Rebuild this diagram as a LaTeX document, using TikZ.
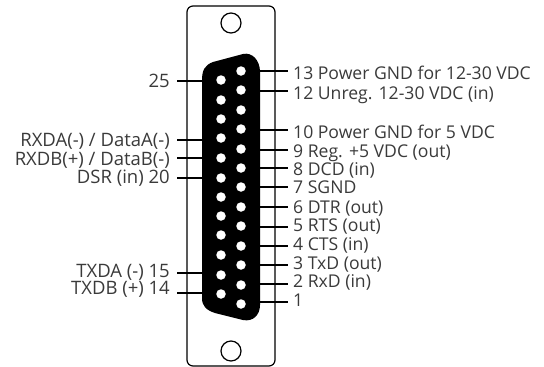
\documentclass[tikz,border=0pt]{standalone}
\usepackage{fontspec}
\setmainfont{Open Sans}
\definecolor{labelgray}{HTML}{3A3A3A}
\tikzset{
  wire/.style={line width=1.5pt,black},
  pin/.style={circle,fill=white,draw=none,minimum size=9.5pt,inner sep=0pt},
  hole/.style={circle,draw,line width=1.2pt,minimum size=20pt,inner sep=0pt},
  lbl/.style={text=labelgray,font=\fontsize{17.6}{19}\selectfont,inner sep=0pt},
  lblleft/.style={lbl,font=\fontsize{18.5}{19}\selectfont}
}
\begin{document}
\begin{tikzpicture}[x=1pt,y=-1pt]
    \useasboundingbox (0,0) rectangle (544,367);
    % pins, left row and right row
    \foreach \n/\y in {25/80,24/100,23/119,22/138,21/158,20/178,19/197,18/216,17/235,16/255,15/275,14/294}
      \coordinate (p\n) at (221,\y);
    \foreach \n/\y in {13/71,12/90,11/110,10/129,9/149,8/168,7/187,6/207,5/226,4/246,3/265,2/285,1/304}
      \coordinate (p\n) at (241,\y);
    % right side wires and labels
    \foreach \n/\y/\ty/\txt in {13/71/79/{13 Power GND for 12-30 VDC},12/91/99/{12 Unreg. 12-30 VDC (in)},
        10/130/138/{10 Power GND for 5 VDC},9/150/157/{9 Reg. +5 VDC (out)},8/168/175/{8 DCD (in)},
        7/187/193/{7 SGND},6/207/213/{6 DTR (out)},5/227/231/{5 RTS (out)},4/246/250/{4 CTS (in)},
        3/265/269/{3 TxD (out)},2/284/287/{2 RxD (in)},1/302/306/{1}} {
      \coordinate (e\n) at (287.5,\y);
      \node[lbl,anchor=base west] (l\n) at (293,\ty) {\txt};
      \draw[wire] (250,\y) coordinate (s\n) -- (e\n);
    }
    % left side wires and labels
    \foreach \n/\y/\ty/\txt in {25/81/87/{25},22/140/146/{RXDA(-) / DataA(-)},21/158/165/{RXDB(+) / DataB(-)},
        20/178/183/{DSR (in) 20},15/273/277/{TXDA (-) 15},14/293/294/{TXDB (+) 14}} {
      \coordinate (e\n) at (177,\y);
      \node[lblleft,anchor=base east] (l\n) at (170,\ty) {\txt};
      \draw[wire] (e\n) -- (210,\y) coordinate (s\n);
    }
    % plate
    \draw[line width=1.2pt,rounded corners=6pt] (187,6) rectangle (275,366);
    \node[hole] (holetop) at (231,23) {};
    \node[hole] (holebot) at (231,351) {};
    % shell
    \fill (202,80) .. controls (202,70) and (205,65) .. (213,62) -- (243,54)
      .. controls (252,52) and (260,60) .. (260,72) -- (260,305)
      .. controls (260,315) and (253,322) .. (243,320) -- (215,313)
      .. controls (206,310) and (202,306) .. (202,298) -- cycle;
    \foreach \n in {1,...,25}
      \node[pin] (pin\n) at (p\n) {};
  \end{tikzpicture}
\end{document}
